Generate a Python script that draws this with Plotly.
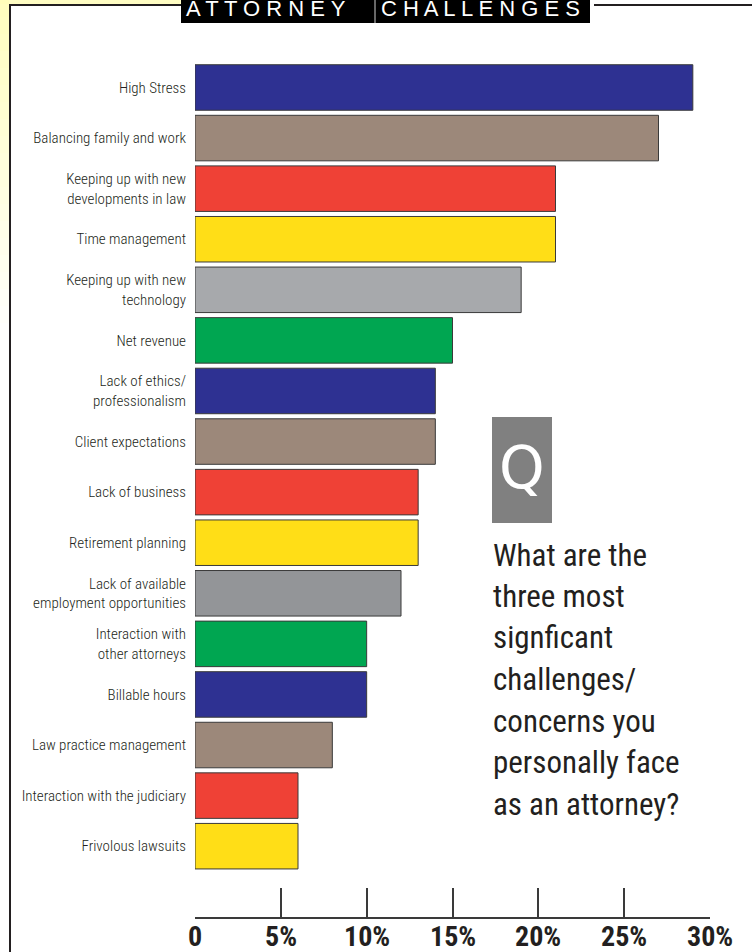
import plotly.graph_objects as go

# Survey responses: share of attorneys naming each challenge (%)
categories = [
    "High Stress",
    "Balancing family and work",
    "Keeping up with new<br>developments in law",
    "Time management",
    "Keeping up with new<br>technology",
    "Net revenue",
    "Lack of ethics/<br>professionalism",
    "Client expectations",
    "Lack of business",
    "Retirement planning",
    "Lack of available<br>employment opportunities",
    "Interaction with<br>other attorneys",
    "Billable hours",
    "Law practice management",
    "Interaction with the judiciary",
    "Frivolous lawsuits",
]
values = [29, 27, 21, 21, 19, 15, 14, 14, 13, 13, 12, 10, 10, 8, 6, 6]
bar_colors = [
    "#2E3192", "#9C887A", "#EF4136", "#FFDE17", "#A7A9AC", "#00A651",
    "#2E3192", "#9C887A", "#EF4136", "#FFDE17", "#939598", "#00A651",
    "#2E3192", "#9C887A", "#EF4136", "#FFDE17",
]
tick_values = [0, 5, 10, 15, 20, 25, 30]
tick_labels = ["0", "5%", "10%", "15%", "20%", "25%", "30%"]
question_lines = [
    "What are the", "three most", "signficant", "challenges/",
    "concerns you", "personally face", "as an attorney?",
]

W, H = 752, 952
ML, MR, MT, MB = 195, 42, 40, 35
PW, PH = W - ML - MR, H - MT - MB

COND = "Roboto Condensed, DejaVu Sans Condensed, sans-serif"
INK = "#231F20"


def px(x):
    return (x - ML) / PW


def py(y):
    return (H - MB - y) / PH


fig = go.Figure(
    go.Bar(
        x=values,
        y=categories,
        orientation="h",
        width=0.9,
        marker=dict(color=bar_colors, line=dict(color="#3a3a3a", width=1)),
        hoverinfo="skip",
    )
)

shapes = []

# pale yellow glow in the top-left corner
for i in range(20):
    y0, y1 = i * 17, (i + 1) * 17
    shapes.append(dict(type="rect", xref="paper", yref="paper",
                       x0=px(-2), x1=px(9), y0=py(y1), y1=py(y0),
                       fillcolor="#FFFDB8", opacity=max(0.0, 0.9 - i * 0.045),
                       line=dict(width=0), layer="below"))
shapes.append(dict(type="rect", xref="paper", yref="paper",
                   x0=px(-2), x1=px(181), y0=py(4), y1=py(-2),
                   fillcolor="#FFFDB8", opacity=0.85, line=dict(width=0), layer="below"))

# frame lines
shapes.append(dict(type="line", xref="paper", yref="paper",
                   x0=px(10), x1=px(10), y0=py(5), y1=py(H + 5),
                   line=dict(color=INK, width=2)))
shapes.append(dict(type="line", xref="paper", yref="paper",
                   x0=px(9), x1=px(181), y0=py(5), y1=py(5),
                   line=dict(color=INK, width=2)))
shapes.append(dict(type="line", xref="paper", yref="paper",
                   x0=px(594), x1=px(W + 2), y0=py(5), y1=py(5),
                   line=dict(color=INK, width=2)))

# title plate
shapes.append(dict(type="rect", xref="paper", yref="paper",
                   x0=px(181), x1=px(590), y0=py(23), y1=py(-2),
                   fillcolor="black", line=dict(width=0)))
shapes.append(dict(type="line", xref="paper", yref="paper",
                   x0=px(375), x1=px(375), y0=py(23), y1=py(-2),
                   line=dict(color="#cfcfcf", width=1)))

# question badge
shapes.append(dict(type="rect", xref="paper", yref="paper",
                   x0=px(492), x1=px(552), y0=py(523), y1=py(417),
                   fillcolor="#808080", line=dict(width=0)))

title_font = dict(family="Liberation Sans, Arial, sans-serif", size=22, color="white")
annotations = [
    dict(text="A T T O R N E Y", xref="paper", yref="paper",
         x=px(184), y=py(8), xanchor="left", yanchor="middle", showarrow=False,
         font=title_font),
    dict(text="C H A L L E N G E S", xref="paper", yref="paper",
         x=px(379), y=py(8), xanchor="left", yanchor="middle", showarrow=False,
         font=title_font),
    dict(text="Q", xref="paper", yref="paper",
         x=px(522), y=py(468), xanchor="center", yanchor="middle", showarrow=False,
         font=dict(family="DejaVu Sans, sans-serif", size=58, color="white")),
]

# question text, one annotation per line for tight leading
for i, line in enumerate(question_lines):
    annotations.append(dict(
        text=line, xref="paper", yref="paper",
        x=px(491), y=py(555 + i * 41.5), xanchor="left", yanchor="middle",
        align="left", showarrow=False,
        font=dict(family=COND, size=31, color=INK),
    ))

# x-axis value labels, placed on the axis scale just below the axis line
for v, lab in zip(tick_values, tick_labels):
    annotations.append(dict(
        text=lab, xref="x", yref="paper", x=v, y=py(936),
        xanchor="center", yanchor="middle", showarrow=False,
        font=dict(family=COND, size=28, color=INK, weight="bold"),
    ))

fig.update_layout(
    width=W, height=H,
    margin=dict(l=ML, r=MR, t=MT, b=MB, autoexpand=False),
    paper_bgcolor="white", plot_bgcolor="white",
    showlegend=False,
    shapes=shapes,
    annotations=annotations,
    xaxis=dict(
        range=[0, 30], tickvals=tick_values, showticklabels=False,
        ticks="inside", ticklen=29, tickwidth=1.5, tickcolor="#3a3a3a",
        showline=True, linecolor="#3a3a3a", linewidth=1.5,
        showgrid=False, zeroline=False, automargin=False,
    ),
    yaxis=dict(
        range=[16.40, -0.939], showgrid=False, zeroline=False, showline=False,
        ticks="", automargin=False, ticklabelstandoff=8,
        tickfont=dict(family=COND, size=15, color=INK, weight=300),
    ),
)

fig.write_html("out.html")
